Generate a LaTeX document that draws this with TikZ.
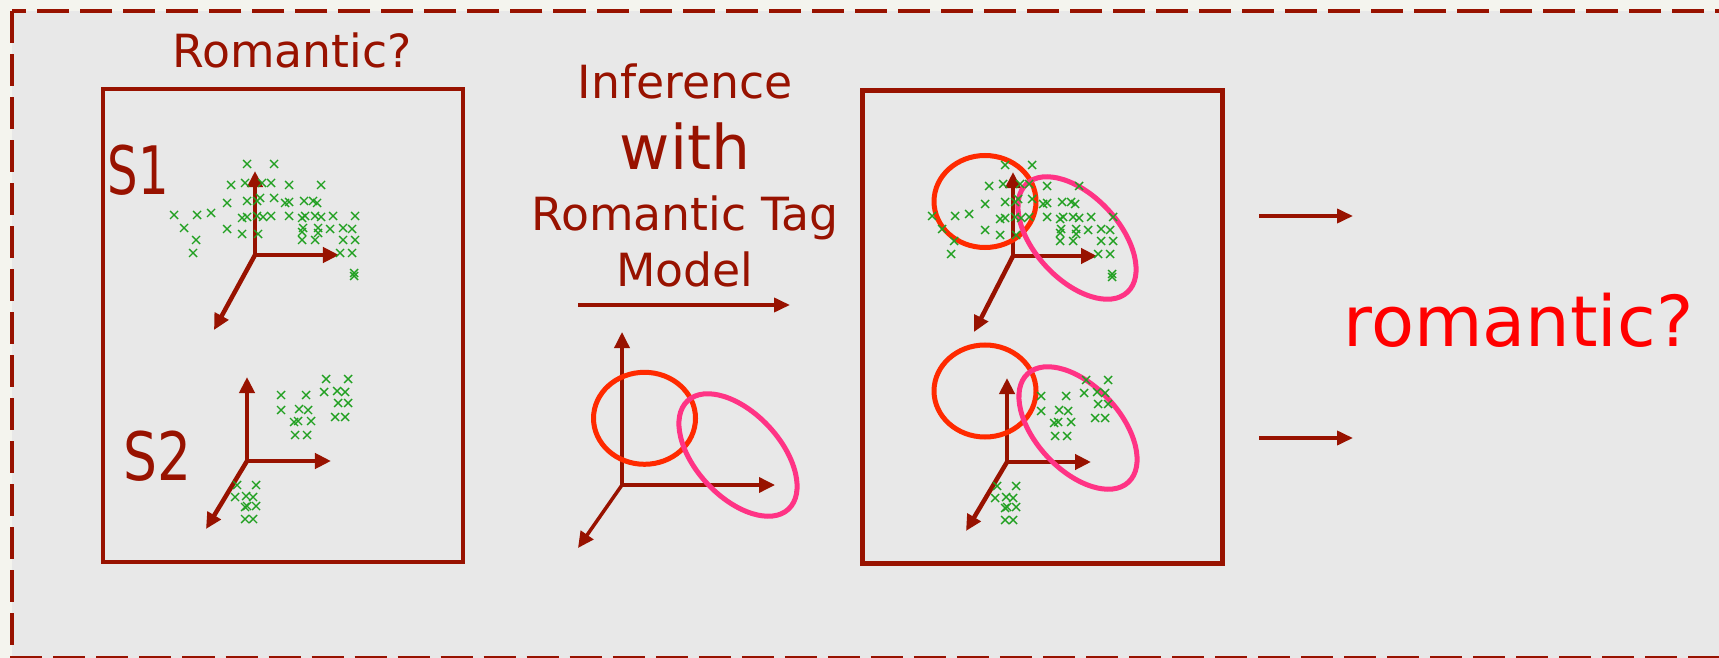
\documentclass[tikz,border=0pt]{standalone}
\usepackage{fontspec}
\setmainfont{DejaVu Sans}
\usepackage{xcolor}
\usepackage{graphicx}
\usepackage{tikz}
\usetikzlibrary{arrows.meta}
\definecolor{deep}{HTML}{981200}
\definecolor{ring}{HTML}{FF2A00}
\definecolor{rose}{HTML}{FF3385}
\definecolor{dots}{HTML}{22A022}
\definecolor{panel}{HTML}{E8E8E8}
\definecolor{paper}{HTML}{F4F4EE}
\tikzset{
  axis/.style={deep,line width=0.045cm,-{Triangle[length=0.16cm,width=0.15cm]}},
  frame/.style={draw=deep,line width=0.045cm,minimum width=3.6cm,minimum height=4.73cm},
  flow/.style={deep,line width=0.037cm,-{Triangle[length=0.16cm,width=0.14cm]}},
  cross/.style={dots,line width=0.4pt},
  redring/.style={ring,line width=0.05cm},
  pinkring/.style={rose,line width=0.05cm},
  txt/.style={deep,inner sep=0pt,anchor=base}
}
\newcommand{\axes}[4][]{%
  \begin{scope}[shift={(#2)}]
    \draw[axis,#1] (0,0) -- (0,#3);
    \draw[axis,#1] (0,0) -- (#3,0);
    \draw[axis,#1] (0,0) -- (#4);
  \end{scope}}
\newcommand{\cloudone}[1]{%
  \begin{scope}[shift={(#1)}]
    \foreach \x/\y in {-8/91,19/91,-24/70,-10/72,7/72,16/72,34/70,66/70,
      -28/52,-8/54,2/54,5/57,19/57,30/52,34/53,49/54,58/54,62/52,
      -81/40,-58/40,-44/42,-13/37,-8/38,2/39,8/38,16/39,34/39,47/37,50/39,60/39,66/38,78/39,100/39,
      -71/27,-28/26,-13/21,3/21,48/27,47/23,63/27,63/22,75/26,88/27,97/26,
      -59/15,47/15,60/15,88/15,100/15,-62/2,85/2,97/2,99/-18,99/-21}
      \draw[cross] (\x,\y) ++(-4,-4) -- ++(8,8) ++(-8,0) -- ++(8,-8);
  \end{scope}}
\newcommand{\cloudtwo}[1]{%
  \begin{scope}[shift={(#1)}]
    \foreach \x/\y in {79/82,101/82,34/66,59/66,77/69,90/70,98/69,34/51,52/52,61/51,
      91/58,101/58,47/39,51/40,64/40,88/44,98/44,48/26,60/26,
      -10/-24,9/-24,-12/-36,-1/-35,6/-36,-2/-46,0/-45,9/-45,-2/-58,6/-58}
      \draw[cross] (\x,\y) ++(-4,-4) -- ++(8,8) ++(-8,0) -- ++(8,-8);
  \end{scope}}

\begin{document}
\begin{tikzpicture}[x=0.01cm,y=0.01cm]
  \fill[paper] (0,0) rectangle (1719,-658);
  \useasboundingbox (0,0) rectangle (1719,-658);
  \draw[deep,fill=panel,line width=0.04cm,dash pattern=on 0.32cm off 0.11cm] (12,-11) rectangle (1760,-658);

  % the two frames
  \node[frame] (inbox) at (283,-325.5) {};
  \node[frame] (outbox) at (1042.5,-327) {};

  % texts
  \node[txt,font=\fontsize{13pt}{15pt}\selectfont] (asktag) at (292,-68) {Romantic?};
  \node[txt,font=\fontsize{19pt}{22pt}\selectfont] (sone) at (138.5,-195) {\scalebox{0.72}[1]{S1}};
  \node[txt,font=\fontsize{19pt}{22pt}\selectfont] (stwo) at (157.5,-480) {\scalebox{0.8}[1]{S2}};
  \node[txt,font=\fontsize{13pt}{15pt}\selectfont] (infer) at (685,-99) {Inference};
  \node[txt,font=\fontsize{17.5pt}{20pt}\selectfont] (with) at (685,-170) {with};
  \node[txt,font=\fontsize{13pt}{15pt}\selectfont] (tagname) at (685,-231) {Romantic Tag};
  \node[txt,font=\fontsize{13pt}{15pt}\selectfont] (model) at (685,-287) {Model};
  \node[txt,red,font=\fontsize{20pt}{24pt}\selectfont] (verdict) at (1518.5,-347) {romantic?};

  % arrows
  \coordinate (mleft) at (578,-305);
  \coordinate (mright) at (790,-305);
  \coordinate (uleft) at (1259,-216);
  \coordinate (uright) at (1353,-216);
  \coordinate (dleft) at (1259,-438);
  \coordinate (dright) at (1353,-438);
  \draw[flow] (mleft) -- (mright);
  \draw[flow] (uleft) -- (uright);
  \draw[flow] (dleft) -- (dright);

  % axes
  \axes{255,-255}{84}{-41,-75}
  \axes{247,-461}{84}{-41,-68}
  \axes[line width=0.035cm]{622,-485}{153}{-44,-63}
  \axes{1013,-256}{84}{-39,-76}
  \axes{1007,-462}{84}{-41,-69}

  % rings
  \draw[redring] (644.5,-418.3) ellipse [x radius=51, y radius=46];
  \draw[pinkring] (738,-455) ellipse [x radius=74, y radius=42, rotate=-47];
  \draw[redring] (985,-201.5) ellipse [x radius=51, y radius=46];
  \draw[pinkring] (1077,-238) ellipse [x radius=74, y radius=42, rotate=-47];
  \draw[redring] (985,-391) ellipse [x radius=51, y radius=46];
  \draw[pinkring] (1078,-428) ellipse [x radius=74, y radius=42, rotate=-47];

  % scatter
  \cloudone{255,-255}
  \cloudone{1013,-256}
  \cloudtwo{247,-461}
  \cloudtwo{1007,-462}
\end{tikzpicture}
\end{document}
